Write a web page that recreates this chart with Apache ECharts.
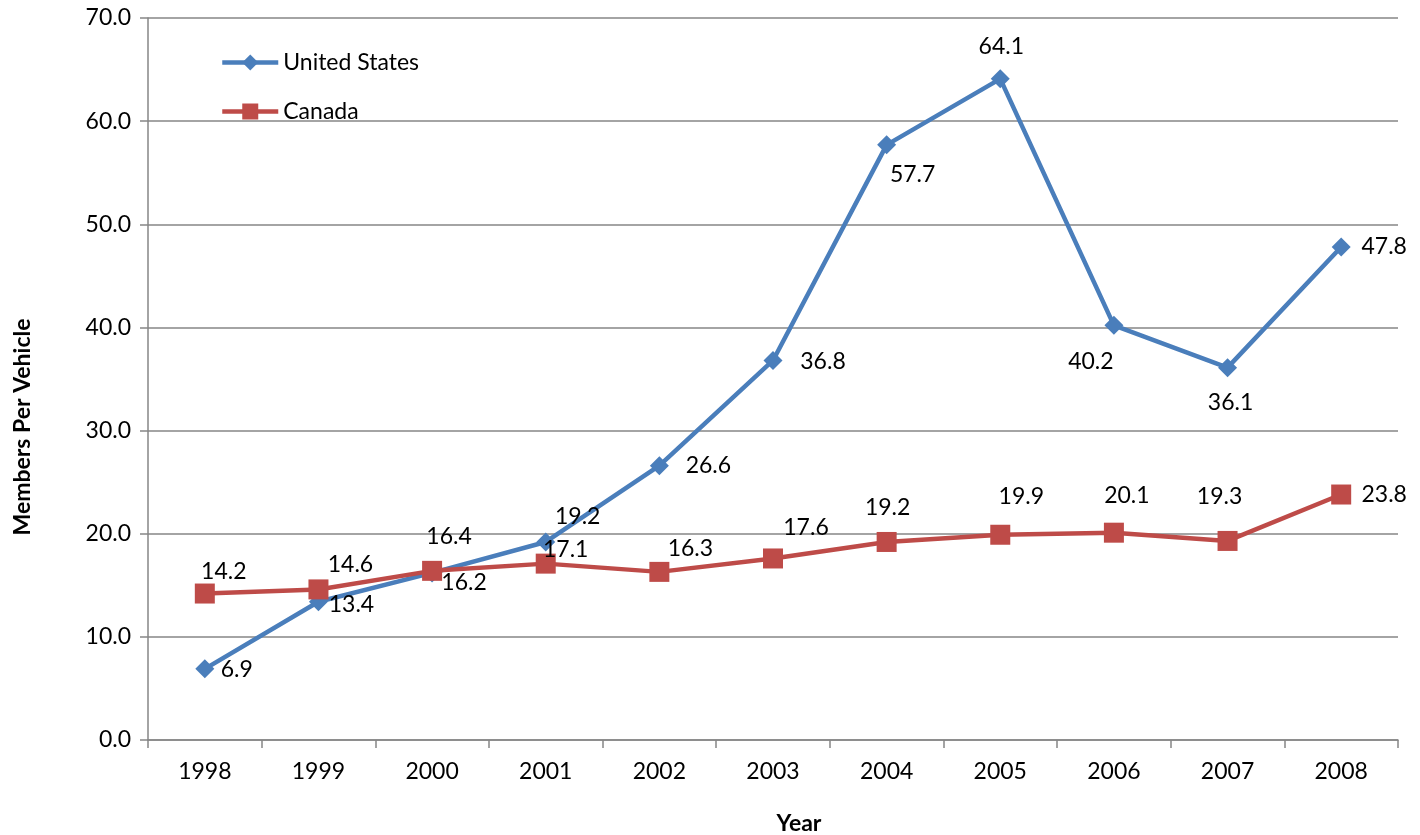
<!DOCTYPE html>
<html>
<head>
<meta charset="utf-8">
<script src="https://cdn.jsdelivr.net/npm/echarts@6/dist/echarts.min.js"></script>
<style>
html, body { margin: 0; padding: 0; background: #ffffff; }
#chart { width: 1420px; height: 835px; }
</style>
</head>
<body>
<div id="chart"></div>
<script>
// data
var years = ['1998', '1999', '2000', '2001', '2002', '2003', '2004', '2005', '2006', '2007', '2008']
var usValues = [6.9, 13.4, 16.2, 19.2, 26.6, 36.8, 57.7, 64.1, 40.2, 36.1, 47.8]
var caValues = [14.2, 14.6, 16.4, 17.1, 16.3, 17.6, 19.2, 19.9, 20.1, 19.3, 23.8]

// where each value label sits relative to its point (px)
var usLabelOffset = [[32, 1], [33, 3], [32, 10], [32, -25], [49, 0], [50, 1], [26, 30], [1, -32], [-23, 36], [3, 35], [43, 0]]
var caLabelOffset = [[19, -22], [32, -25], [17, -34], [20, -14], [31, -23], [33, -31], [1, -34], [21, -38], [13, -37], [-8, -44], [43, 0]]

var font = 'Lato, "Liberation Sans", sans-serif'

function withLabels (values, offsets) {
  return values.map(function (v, i) {
    return { value: v, label: { offset: offsets[i] } }
  })
}

var chart = echarts.init(document.getElementById('chart'))
chart.setOption({
  animation: false,
  textStyle: { fontFamily: font },
  grid: { left: 148, right: 22, top: 18, bottom: 95, containLabel: false, outerBoundsMode: 'none' },
  legend: {
    orient: 'vertical',
    left: 215,
    top: 46,
    itemWidth: 56,
    itemHeight: 20,
    itemGap: 26,
    lineStyle: { width: 4.5 },
    textStyle: { fontSize: 23, color: '#000', fontFamily: font },
    data: ['United States', 'Canada']
  },
  xAxis: {
    type: 'category',
    data: years,
    boundaryGap: true,
    name: 'Year',
    nameLocation: 'middle',
    nameGap: 72,
    nameTextStyle: { fontSize: 23, fontWeight: 'bold', color: '#000', fontFamily: font, padding: [0, 0, 0, 52] },
    axisLine: { lineStyle: { color: '#868686', width: 1.5 } },
    axisTick: { show: true, alignWithLabel: false, length: 8, inside: false, lineStyle: { color: '#868686', width: 1.5 } },
    axisLabel: { fontSize: 23, color: '#000', margin: 20, fontFamily: font },
    splitLine: { show: false }
  },
  yAxis: {
    type: 'value',
    min: 0,
    max: 70,
    interval: 10,
    name: 'Members Per Vehicle',
    nameLocation: 'middle',
    nameGap: 114,
    nameRotate: 90,
    nameTextStyle: { fontSize: 23, fontWeight: 'bold', color: '#000', fontFamily: font, padding: [0, 96, 0, 0] },
    axisLine: { show: true, lineStyle: { color: '#868686', width: 1.5 } },
    axisTick: { show: true, length: 8, lineStyle: { color: '#868686', width: 1.5 } },
    axisLabel: {
      fontSize: 23, color: '#000', margin: 17, fontFamily: font,
      formatter: function (v) { return v.toFixed(1) }
    },
    splitLine: { show: true, lineStyle: { color: '#868686', width: 1.5 } }
  },
  series: [
    {
      name: 'United States',
      type: 'line',
      data: withLabels(usValues, usLabelOffset),
      symbol: 'diamond',
      symbolSize: 19,
      lineStyle: { color: '#4a7ebb', width: 4.5 },
      itemStyle: { color: '#4a7ebb' },
      label: {
        show: true, position: 'inside', fontSize: 23, color: '#000', fontFamily: font,
        formatter: function (p) { return p.value.toFixed(1) }
      },
      z: 3
    },
    {
      name: 'Canada',
      type: 'line',
      data: withLabels(caValues, caLabelOffset),
      symbol: 'rect',
      symbolSize: 20,
      lineStyle: { color: '#be4b48', width: 4.5 },
      itemStyle: { color: '#be4b48' },
      label: {
        show: true, position: 'inside', fontSize: 23, color: '#000', fontFamily: font,
        formatter: function (p) { return p.value.toFixed(1) }
      },
      z: 4
    }
  ]
})
</script>
</body>
</html>
